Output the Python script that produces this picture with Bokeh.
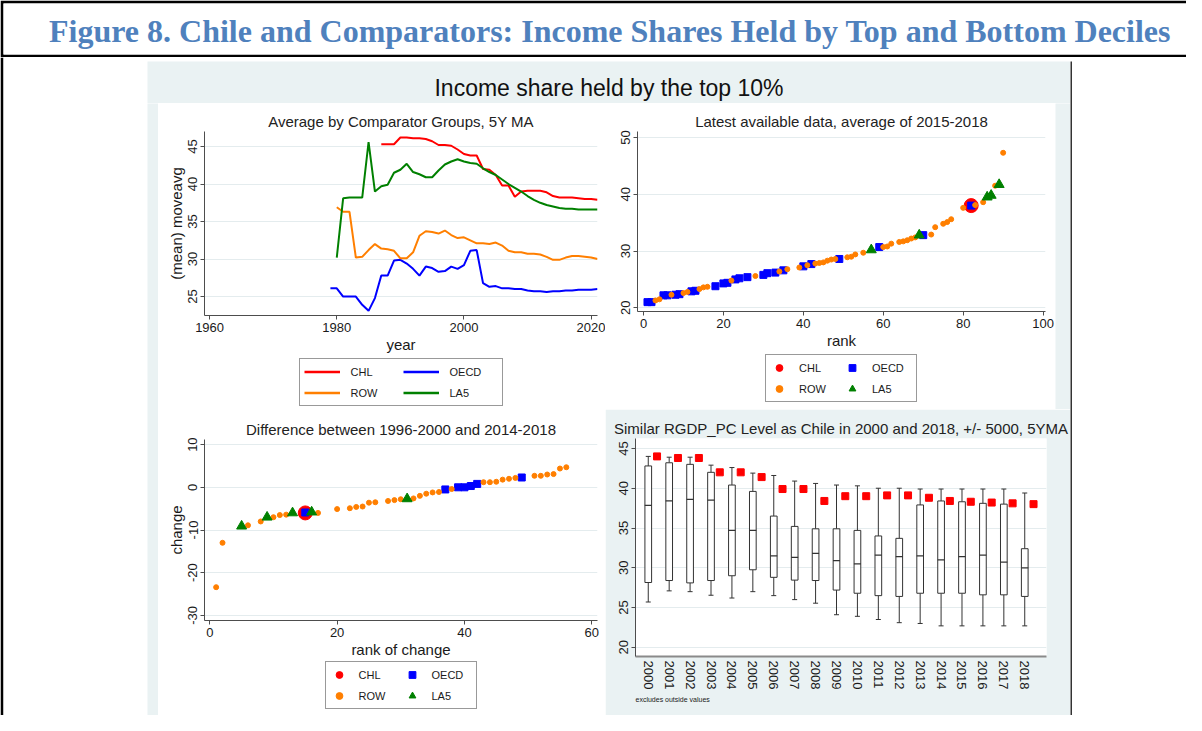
from bokeh.plotting import figure
from bokeh.models import Range1d, FixedTicker, Legend, LegendItem, Label, Title, ColumnDataSource
from bokeh.layouts import row, column
from bokeh.transform import dodge
from bokeh.embed import file_html
from bokeh.resources import INLINE
from bokeh.core.validation import silence
from bokeh.core.validation.warnings import MISSING_RENDERERS

silence(MISSING_RENDERERS, True)

# ---------------- data ----------------
# Top-left: 5Y moving average by comparator group
years_chl = list(range(1987, 2022))
ma_chl = [45.3, 45.3, 45.3, 46.2, 46.2, 46.1, 46.1, 46.0, 45.7, 45.2, 45.2, 45.1, 44.6, 44.0,
          43.8, 43.8, 42.0, 41.9, 41.2, 39.8, 39.8, 38.3, 39.0, 39.1, 39.1, 39.1, 38.9, 38.4,
          38.2, 38.2, 38.2, 38.1, 38.0, 38.0, 37.9]
years_oecd = list(range(1979, 2022))
ma_oecd = [26.1, 26.1, 25.0, 25.0, 25.0, 23.9, 23.1, 24.8, 27.8, 27.8, 29.8, 29.9, 29.4, 28.7,
           27.8, 29.0, 28.8, 28.3, 28.4, 29.0, 28.7, 29.2, 31.1, 31.2, 26.8, 26.3, 26.4, 26.1,
           26.1, 26.0, 26.0, 25.8, 25.7, 25.7, 25.6, 25.7, 25.7, 25.8, 25.8, 25.9, 25.9, 25.9, 26.0]
years_row = list(range(1980, 2022))
ma_row = [36.9, 36.3, 36.3, 30.2, 30.3, 31.2, 32.0, 31.4, 31.3, 31.1, 30.1, 30.1, 30.9, 33.1,
          33.7, 33.6, 33.4, 33.8, 33.2, 32.8, 32.9, 32.5, 32.1, 32.1, 32.0, 32.2, 31.8, 31.1,
          30.9, 30.9, 30.7, 30.7, 30.6, 30.3, 29.9, 29.9, 30.2, 30.4, 30.4, 30.3, 30.2, 30.0]
years_la5 = list(range(1980, 2022))
ma_la5 = [30.2, 38.1, 38.2, 38.2, 38.2, 45.6, 39.0, 39.7, 39.9, 41.5, 41.9, 42.7, 41.6, 41.3,
          40.9, 40.9, 41.8, 42.6, 43.0, 43.3, 43.0, 42.8, 42.7, 42.1, 41.6, 41.2, 40.6, 40.0,
          39.5, 39.0, 38.4, 37.9, 37.5, 37.2, 37.0, 36.8, 36.7, 36.7, 36.6, 36.6, 36.6, 36.6]

# Top-right: latest available data (rank vs share)
tr_row_rank = [3, 4, 7, 10, 11, 14, 15, 16, 22, 28, 34, 36, 39, 41, 43, 44, 45, 46, 47, 48, 51, 52,
               53, 55, 60, 61, 62, 64, 65, 66, 67, 68, 72, 73, 75, 76, 77, 80, 83, 85, 88, 90]
tr_row_val = [21.3, 21.5, 22.3, 22.6, 22.8, 23.3, 23.6, 23.7, 24.8, 25.6, 26.4, 26.8, 27.1, 27.5,
              27.8, 27.9, 28.0, 28.3, 28.5, 28.6, 28.9, 29.0, 29.4, 29.7, 30.7, 30.8, 31.3, 31.6,
              31.7, 31.9, 32.2, 32.4, 32.9, 34.2, 34.8, 35.1, 35.6, 37.6, 38.1, 38.6, 41.5, 47.3]
tr_oecd_rank = [1, 2, 5, 6, 8, 9, 12, 13, 18, 20, 21, 23, 24, 26, 30, 31, 33, 35, 40, 42, 49, 59, 70, 82]
tr_oecd_val = [21.0, 21.0, 22.2, 22.2, 22.3, 22.4, 22.9, 23.0, 23.8, 24.3, 24.4, 25.0, 25.2, 25.4,
               25.8, 26.1, 26.2, 26.6, 27.3, 27.7, 28.6, 30.7, 32.8, 38.0]
tr_la5_rank = [57, 69, 86, 87, 89]
tr_la5_val = [30.2, 32.8, 39.5, 39.8, 41.7]
tr_chl_rank = [82]
tr_chl_val = [38.0]

# Bottom-left: change between 1996-2000 and 2014-2018
bl_row_rank = [1, 2, 6, 8, 10, 11, 12, 17, 20, 22, 23, 24, 25, 26, 28, 29, 30, 32, 33, 34, 35, 36,
               38, 43, 44, 45, 46, 47, 48, 51, 52, 53, 54, 55, 56]
bl_row_val = [-23.4, -13.0, -8.9, -8.0, -7.0, -6.5, -6.4, -6.0, -5.1, -4.9, -4.6, -4.5, -3.6, -3.5,
              -3.2, -3.0, -2.8, -2.6, -2.0, -1.5, -1.2, -1.1, -0.4, 1.2, 1.2, 1.3, 1.8, 2.0, 2.2,
              2.7, 2.7, 3.0, 3.1, 4.4, 4.7]
bl_oecd_rank = [15, 37, 39, 40, 41, 42, 49]
bl_oecd_val = [-5.9, -0.5, 0.0, 0.0, 0.3, 0.8, 2.3]
bl_la5_rank = [5, 9, 13, 16, 31]
bl_la5_val = [-9.1, -7.0, -6.0, -5.8, -2.7]
bl_chl_rank = [15]
bl_chl_val = [-6.0]

# Bottom-right: box plots by year and Chile's level
box_years = ["2000", "2001", "2002", "2003", "2004", "2005", "2006", "2007", "2008", "2009",
             "2010", "2011", "2012", "2013", "2014", "2015", "2016", "2017", "2018"]
box_upper = [44.0, 43.9, 43.9, 42.9, 42.6, 41.9, 41.6, 40.9, 40.6, 40.4, 40.3, 40.0, 40.0, 39.9,
             39.9, 39.9, 39.9, 39.9, 39.4]
box_q3 = [42.8, 43.2, 43.0, 42.0, 40.4, 39.6, 36.5, 35.2, 34.9, 34.9, 34.7, 34.0, 33.7, 37.9,
          38.4, 38.3, 38.1, 38.0, 32.4]
box_med = [37.85, 38.4, 38.6, 38.5, 34.7, 34.7, 31.5, 31.3, 31.8, 30.9, 30.5, 31.6, 31.4, 31.5,
           31.0, 31.4, 31.6, 30.7, 30.0]
box_q1 = [28.15, 28.4, 28.1, 28.4, 29.0, 29.75, 28.8, 28.45, 28.4, 27.2, 26.8, 26.5, 26.4, 26.8,
          26.8, 26.8, 26.6, 26.6, 26.4]
box_lower = [25.7, 27.1, 27.0, 26.55, 26.2, 27.0, 26.5, 26.0, 25.55, 24.1, 23.9, 23.5, 23.1, 23.0,
             22.7, 22.7, 22.7, 22.7, 22.7]
chl_level = [44.0, 43.8, 43.8, 42.0, 42.0, 41.4, 39.9, 39.9, 38.4, 39.0, 39.0, 39.1, 39.1, 38.8,
             38.4, 38.3, 38.2, 38.1, 38.0]

# ---------------- styling ----------------
FONT = "Liberation Sans"
BG = "#EAF2F3"
GRID = "#E4ECEE"
AX = "#4D4D4D"
TXT = "#1a1a1a"
RED, BLUE, ORANGE, GREEN = "#FF0000", "#0000FF", "#FF7F00", "#008000"


def block(w, h, color, frame_color=None, left=0, top=0, bottom=0, xr=(0, 1), yr=(0, 1)):
    f = figure(width=w, height=h, output_backend="svg", toolbar_location=None,
               x_axis_location=None, y_axis_location=None,
               min_border_left=left, min_border_top=top, min_border_bottom=bottom, min_border_right=0,
               x_range=Range1d(*xr), y_range=Range1d(*yr))
    f.grid.visible = False
    f.outline_line_color = None
    f.border_fill_color = color
    f.background_fill_color = frame_color if frame_color else color
    return f


def style(p, border_color="white"):
    p.border_fill_color = border_color
    p.background_fill_color = "white"
    p.outline_line_color = None
    p.xgrid.visible = False
    p.ygrid.grid_line_color = GRID
    p.ygrid.grid_line_width = 1
    for ax in p.axis:
        ax.axis_line_color = AX
        ax.major_tick_line_color = AX
        ax.minor_tick_line_color = None
        ax.major_tick_in = 0
        ax.major_tick_out = 4
        ax.major_label_text_font = FONT
        ax.major_label_text_font_size = "13px"
        ax.major_label_text_color = TXT
        ax.major_label_standoff = 3
        ax.axis_label_text_font = FONT
        ax.axis_label_text_font_size = "15px"
        ax.axis_label_text_font_style = "normal"
        ax.axis_label_text_color = TXT
        ax.axis_label_standoff = 1
    p.yaxis.major_label_orientation = "vertical"
    p.title.text_font = FONT
    p.title.text_font_size = "15px"
    p.title.text_font_style = "normal"
    p.title.text_color = "#222222"
    p.title.align = "center"
    p.title.standoff = 3


def legend_box(width, height, pad_left, specs, glyph_w, lw):
    """A small white figure that only carries the 2x2 legend.  Its view window lies far
    from the data, so the series drawn here only provide the legend glyphs."""
    lf = block(width - pad_left, height, "white", xr=(-1000, -999), yr=(-1000, -999))
    items = []
    for label, kind, xs, ys, kw in specs:
        if kind == "line":
            r = lf.line(xs, ys, **kw)
        else:
            r = lf.scatter(xs, ys, **kw)
        items.append(LegendItem(label=label, renderers=[r]))
    lg = Legend(items=items, orientation="horizontal", ncols=2, location="top_center",
                glyph_width=glyph_w, glyph_height=17, label_standoff=11,
                label_width=lw, label_height=17, spacing=4, padding=4, margin=1,
                border_line_color="#333333", border_line_width=1,
                background_fill_color="white", background_fill_alpha=1.0,
                label_text_font=FONT, label_text_font_size="11px", label_text_color=TXT)
    lf.add_layout(lg)
    return row(block(pad_left, height, "white"), lf)


def mark_specs(chl_r, chl_v, oecd_r, oecd_v, row_r, row_v, la5_r, la5_v):
    return [("CHL", "scatter", chl_r, chl_v, dict(marker="circle", size=14, color=RED)),
            ("OECD", "scatter", oecd_r, oecd_v, dict(marker="square", size=7, color=BLUE)),
            ("ROW", "scatter", row_r, row_v, dict(marker="circle", size=5, color=ORANGE)),
            ("LA5", "scatter", la5_r, la5_v, dict(marker="triangle", size=10, color=GREEN))]


# ---------------- top-left ----------------
p1 = figure(width=447, height=254, x_range=Range1d(1959.2, 2021.0), y_range=Range1d(22.48, 47.0),
            output_backend="svg", toolbar_location=None, title="Average by Comparator Groups, 5Y MA",
            min_border_left=46, min_border_right=8, min_border_top=28, min_border_bottom=42)
style(p1)
p1.xaxis.ticker = FixedTicker(ticks=[1960, 1980, 2000, 2020])
p1.yaxis.ticker = FixedTicker(ticks=[25, 30, 35, 40, 45])
p1.xaxis.axis_label = "year"
p1.yaxis.axis_label = "(mean) moveavg"
p1.line(years_chl, ma_chl, line_color=RED, line_width=2)
p1.line(years_oecd, ma_oecd, line_color=BLUE, line_width=2)
p1.line(years_row, ma_row, line_color=ORANGE, line_width=2)
p1.line(years_la5, ma_la5, line_color=GREEN, line_width=2)
LINE_SPECS = [("CHL", "line", years_chl, ma_chl, dict(line_color=RED, line_width=2.5)),
              ("OECD", "line", years_oecd, ma_oecd, dict(line_color=BLUE, line_width=2.5)),
              ("ROW", "line", years_row, ma_row, dict(line_color=ORANGE, line_width=2.5)),
              ("LA5", "line", years_la5, ma_la5, dict(line_color=GREEN, line_width=2.5))]
tl_cell = column(p1, legend_box(447, 52, 38, LINE_SPECS, 36, 48))


def scatter_glyphs(p, chl_r, chl_v, oecd_r, oecd_v, row_r, row_v, la5_r, la5_v):
    p.scatter(chl_r, chl_v, marker="circle", size=14, color=RED)
    p.scatter(oecd_r, oecd_v, marker="square", size=7, color=BLUE)
    p.scatter(row_r, row_v, marker="circle", size=5, color=ORANGE)
    p.scatter(la5_r, la5_v, marker="triangle", size=10, color=GREEN)


# ---------------- top-right ----------------
p2 = figure(width=450, height=250, x_range=Range1d(-1.5, 100.6), y_range=Range1d(19.35, 51.05),
            output_backend="svg", toolbar_location=None, title="Latest available data, average of 2015-2018",
            min_border_left=32, min_border_right=10, min_border_top=28, min_border_bottom=42)
style(p2)
p2.xaxis.ticker = FixedTicker(ticks=[0, 20, 40, 60, 80, 100])
p2.yaxis.ticker = FixedTicker(ticks=[20, 30, 40, 50])
p2.xaxis.axis_label = "rank"
tr_args = (tr_chl_rank, tr_chl_val, tr_oecd_rank, tr_oecd_val, tr_row_rank, tr_row_val,
           tr_la5_rank, tr_la5_val)
scatter_glyphs(p2, *tr_args)
tr_cell = column(p2, legend_box(450, 56, 22, mark_specs(*tr_args), 18, 40))

# ---------------- bottom-left ----------------
p3 = figure(width=447, height=251, x_range=Range1d(-0.83, 60.9), y_range=Range1d(-31.2, 11.2),
            output_backend="svg", toolbar_location=None, title="Difference between 1996-2000 and 2014-2018",
            min_border_left=46, min_border_right=8, min_border_top=30, min_border_bottom=40)
style(p3)
p3.xaxis.ticker = FixedTicker(ticks=[0, 20, 40, 60])
p3.yaxis.ticker = FixedTicker(ticks=[-30, -20, -10, 0, 10])
p3.yaxis.major_label_overrides = {-30: "-30", -20: "-20", -10: "-10", 0: "0", 10: "10"}
p3.xaxis.axis_label = "rank of change"
p3.yaxis.axis_label = "change"
bl_args = (bl_chl_rank, bl_chl_val, bl_oecd_rank, bl_oecd_val, bl_row_rank, bl_row_val,
           bl_la5_rank, bl_la5_val)
scatter_glyphs(p3, *bl_args)
bl_cell = column(p3, legend_box(447, 52, 38, mark_specs(*bl_args), 18, 40))

# ---------------- bottom-right ----------------
box_pos = list(range(len(box_years)))
src = ColumnDataSource(dict(pos=box_pos, upper=box_upper, q3=box_q3, med=box_med, q1=box_q1,
                            lower=box_lower, chl=chl_level))
p4 = figure(width=465, height=306, x_range=Range1d(-0.61, 19.04), y_range=Range1d(18.85, 46.25),
            output_backend="svg", toolbar_location=None,
            title="Similar RGDP_PC Level as Chile in 2000 and 2018, +/- 5000, 5YMA",
            min_border_left=30, min_border_right=24, min_border_top=29, min_border_bottom=59)
style(p4, BG)
p4.xaxis.ticker = FixedTicker(ticks=box_pos)
p4.xaxis.major_label_overrides = {i: y for i, y in zip(box_pos, box_years)}
p4.xaxis.major_label_orientation = "vertical"
p4.xaxis.major_tick_line_color = None
p4.xaxis.major_tick_out = 0
p4.xaxis.major_label_standoff = 4
p4.xaxis.axis_line_color = "#8a8a8a"
p4.xaxis.axis_line_width = 2
p4.yaxis.ticker = FixedTicker(ticks=[20, 25, 30, 35, 40, 45])
BOXC = "#333333"
p4.segment(x0="pos", y0="q3", x1="pos", y1="upper", source=src, line_color=BOXC, line_width=1)
p4.segment(x0="pos", y0="lower", x1="pos", y1="q1", source=src, line_color=BOXC, line_width=1)
p4.vbar(x="pos", top="q3", bottom="q1", width=0.32, source=src, fill_color="white",
        line_color=BOXC, line_width=1)
p4.scatter(x="pos", y="med", source=src, marker="dash", size=7, line_color=BOXC, line_width=1.2)
p4.scatter(x="pos", y="upper", source=src, marker="dash", size=5, line_color=BOXC, line_width=1)
p4.scatter(x="pos", y="lower", source=src, marker="dash", size=5, line_color=BOXC, line_width=1)
p4.scatter(x=dodge("pos", 0.42), y="chl", source=src, marker="square", size=7, color=RED)
p4.add_layout(Title(text="excludes outside values", align="left", text_font=FONT,
                    text_font_size="7px", text_font_style="normal", text_color=TXT, standoff=2), "below")

# ---------------- frame / layout ----------------
header = block(923, 42, BG)
header.add_layout(Label(x=0.5, y=0.36, text="Income share held by the top 10%", text_align="center",
                        text_baseline="middle", text_font=FONT, text_font_size="23px", text_color="#111111"))

left_col = column(tl_cell, bl_cell, block(447, 6, BG))
right_col = column(row(tr_cell, block(15, 306, BG)), p4)
panel = column(header, row(block(11, 612, BG), left_col, right_col))

title_fig = block(1186, 57, "black", frame_color="white", left=3, top=3, bottom=3)
title_fig.add_layout(Label(x=0.5127, y=0.47,
                           text="Figure 8. Chile and Comparators: Income Shares Held by Top and Bottom Deciles",
                           text_align="center", text_baseline="middle", text_font="Liberation Serif",
                           text_font_style="bold", text_font_size="32px", text_color="#4F81BD"))

layout = column(
    title_fig,
    row(block(147, 658, "black", frame_color="white", left=3),
        column(block(923, 4, "white"), panel),
        column(block(2, 4, "white"), block(2, 654, "#333333")),
        block(114, 658, "white")),
)

open("out.html", "w").write(file_html(layout, INLINE))
